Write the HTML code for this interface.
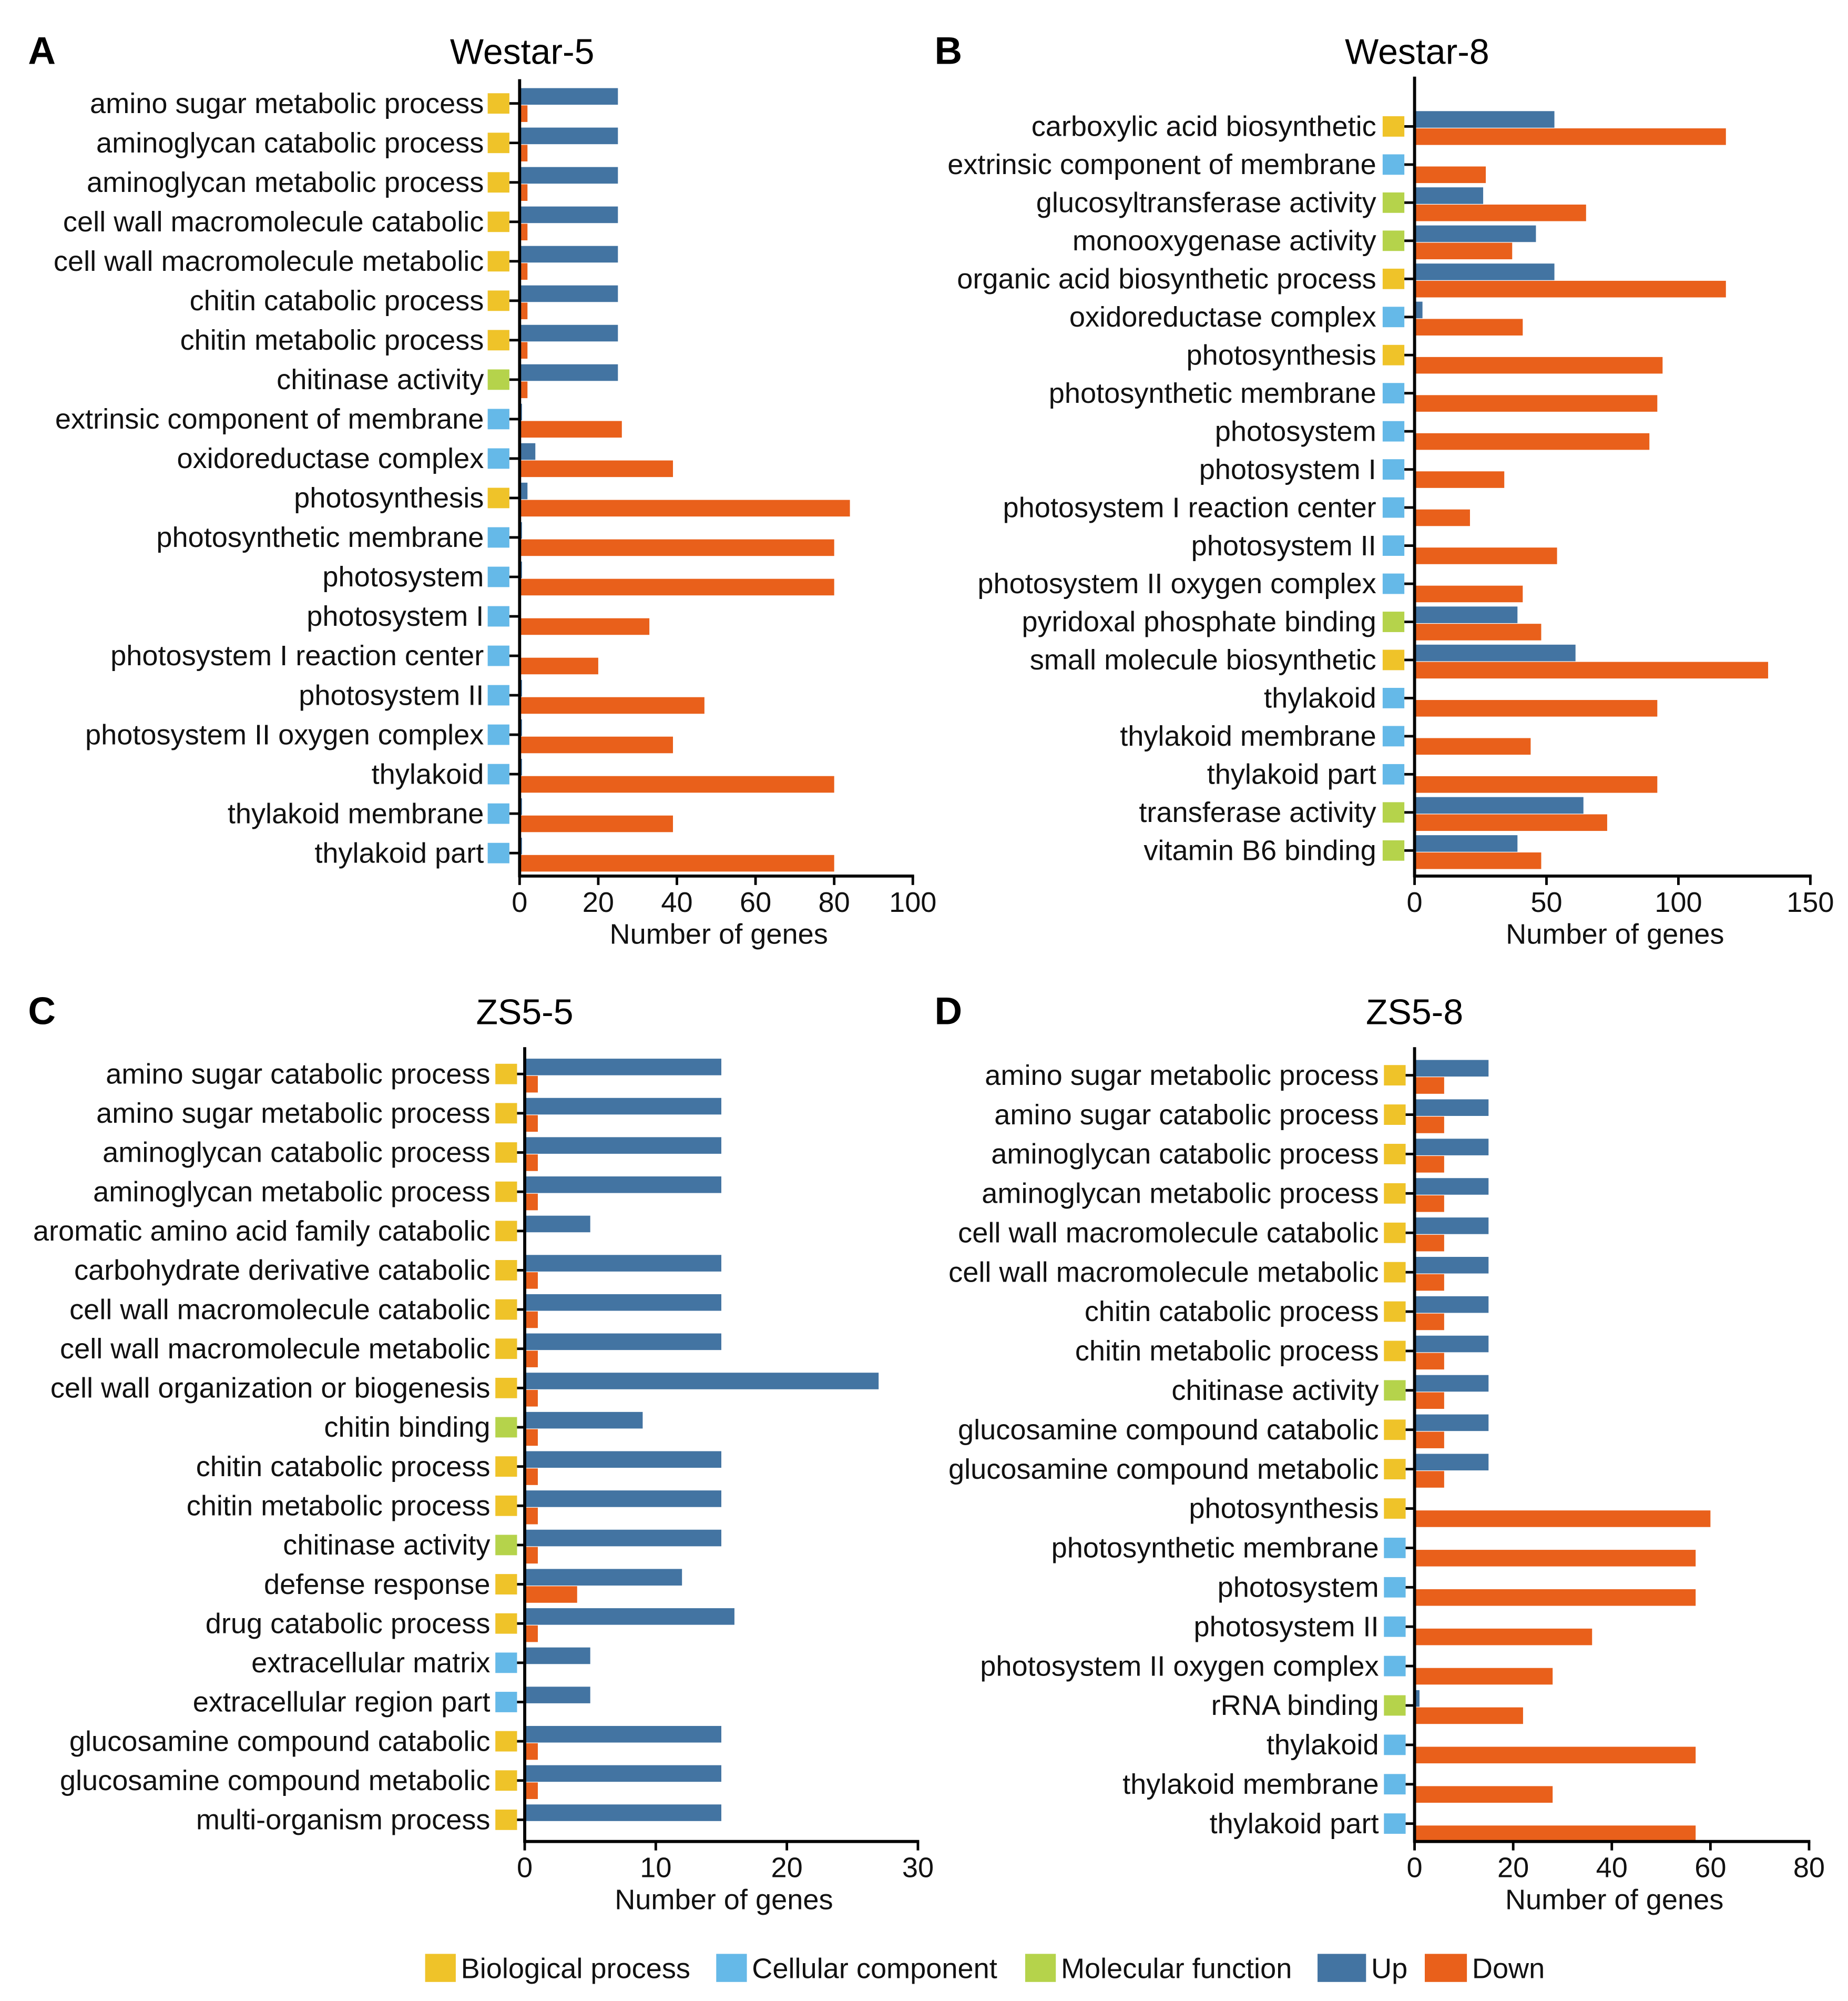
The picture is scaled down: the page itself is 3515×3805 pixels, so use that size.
<!DOCTYPE html>
<html><head><meta charset="utf-8"><style>
html,body{margin:0;padding:0;background:#fff;}
svg{display:block;font-family:"Liberation Sans",Arial,sans-serif;}
</style></head><body>
<svg id="fig" width="3515" height="3805" viewBox="0 0 1447.5 1566.9" xmlns="http://www.w3.org/2000/svg"></svg>
<script>
// ---- Panel A data (Westar-5)
const catsA = ["amino sugar metabolic process","aminoglycan catabolic process","aminoglycan metabolic process","cell wall macromolecule catabolic","cell wall macromolecule metabolic","chitin catabolic process","chitin metabolic process","chitinase activity","extrinsic component of membrane","oxidoreductase complex","photosynthesis","photosynthetic membrane","photosystem","photosystem I","photosystem I reaction center","photosystem II","photosystem II oxygen complex","thylakoid","thylakoid membrane","thylakoid part"];
const typeA = ["B","B","B","B","B","B","B","M","C","C","B","C","C","C","C","C","C","C","C","C"];
const upA = [25,25,25,25,25,25,25,25,0.6,4,2,0.6,0.6,0,0,0.6,0.6,0.6,0.6,0.6];
const downA = [2,2,2,2,2,2,2,2,26,39,84,80,80,33,20,47,39,80,39,80];
const ticksA = [0,20,40,60,80,100];
// ---- Panel B data (Westar-8)
const catsB = ["carboxylic acid biosynthetic","extrinsic component of membrane","glucosyltransferase activity","monooxygenase activity","organic acid biosynthetic process","oxidoreductase complex","photosynthesis","photosynthetic membrane","photosystem","photosystem I","photosystem I reaction center","photosystem II","photosystem II oxygen complex","pyridoxal phosphate binding","small molecule biosynthetic","thylakoid","thylakoid membrane","thylakoid part","transferase activity","vitamin B6 binding"];
const typeB = ["B","C","M","M","B","C","B","C","C","C","C","C","C","M","B","C","C","C","M","M"];
const upB = [53,0,26,46,53,3,0.6,0,0,0,0,0,0,39,61,0,0,0,64,39];
const downB = [118,27,65,37,118,41,94,92,89,34,21,54,41,48,134,92,44,92,73,48];
const ticksB = [0,50,100,150];
// ---- Panel C data (ZS5-5)
const catsC = ["amino sugar catabolic process","amino sugar metabolic process","aminoglycan catabolic process","aminoglycan metabolic process","aromatic amino acid family catabolic","carbohydrate derivative catabolic","cell wall macromolecule catabolic","cell wall macromolecule metabolic","cell wall organization or biogenesis","chitin binding","chitin catabolic process","chitin metabolic process","chitinase activity","defense response","drug catabolic process","extracellular matrix","extracellular region part","glucosamine compound catabolic","glucosamine compound metabolic","multi-organism process"];
const typeC = ["B","B","B","B","B","B","B","B","B","M","B","B","M","B","B","C","C","B","B","B"];
const upC = [15,15,15,15,5,15,15,15,27,9,15,15,15,12,16,5,5,15,15,15];
const downC = [1,1,1,1,0,1,1,1,1,1,1,1,1,4,1,0,0,1,1,0];
const ticksC = [0,10,20,30];
// ---- Panel D data (ZS5-8)
const catsD = ["amino sugar metabolic process","amino sugar catabolic process","aminoglycan catabolic process","aminoglycan metabolic process","cell wall macromolecule catabolic","cell wall macromolecule metabolic","chitin catabolic process","chitin metabolic process","chitinase activity","glucosamine compound catabolic","glucosamine compound metabolic","photosynthesis","photosynthetic membrane","photosystem","photosystem II","photosystem II oxygen complex","rRNA binding","thylakoid","thylakoid membrane","thylakoid part"];
const typeD = ["B","B","B","B","B","B","B","B","M","B","B","B","C","C","C","C","M","C","C","C"];
const upD = [15,15,15,15,15,15,15,15,15,15,15,0,0,0,0,0,1,0,0,0];
const downD = [6,6,6,6,6,6,6,6,6,6,6,60,57,57,36,28,22,57,28,57];
const ticksD = [0,20,40,60,80];

const COL = {B:"#efc329",C:"#65b9e8",M:"#b5d34b",up:"#4374a2",down:"#e9601b"};
const FS = 22.3;
const NS = "http://www.w3.org/2000/svg";
const svg = document.getElementById("fig");
function mk(tag, attrs, parent){const e=document.createElementNS(NS,tag);for(const k in attrs)e.setAttribute(k,attrs[k]);(parent||svg).appendChild(e);return e;}

function panel(cfg){
  const g = mk("g",{});
  
  
  const x0=cfg.x0, x1=cfg.x1, max=cfg.ticks[cfg.ticks.length-1];
  const xs = v => x0 + (x1-x0)*v/max;
  const n = cfg.cats.length;
  const ys = i => cfg.yFirst + (cfg.yLast-cfg.yFirst)*i/(n-1);
  const L = mk("text",{x:cfg.letterX,y:cfg.titleY+10,"font-size":30,"font-weight":"bold",fill:"#000"},g);
  L.textContent=cfg.letter;
  
  
  const T = mk("text",{x:cfg.titleX,y:cfg.titleY+10,"font-size":28,"text-anchor":"middle",fill:"#000"},g);
  T.textContent=cfg.title;
  
  
  for(let i=0;i<n;i++){
    const c=ys(i);
    const lab = mk("text",{x:cfg.labelX,y:c+7.5,"font-size":FS,"text-anchor":"end",fill:"#111"},g);
    lab.textContent=cfg.cats[i];
    
    
    const sq = mk("rect",{x:cfg.sqX,y:c-8,width:17,height:16,fill:COL[cfg.types[i]]},g);
    
    
    mk("line",{x1:cfg.sqX+17,x2:x0,y1:c,y2:c,stroke:"#000","stroke-width":2},g);
    if(cfg.up[i]>0){
      const b = mk("rect",{x:x0,y:c-12,width:xs(cfg.up[i])-x0,height:13,fill:COL.up},g);
      
      
    }
    if(cfg.down[i]>0){
      const b = mk("rect",{x:x0,y:c+1.5,width:xs(cfg.down[i])-x0,height:13,fill:COL.down},g);
      
      
    }
  }
  const ya = mk("line",{x1:x0,x2:x0,y1:cfg.axTop,y2:cfg.axBot+1,stroke:"#000","stroke-width":2.4},g);
  
  
  const xa = mk("line",{x1:x0-1,x2:x1+1,y1:cfg.axBot,y2:cfg.axBot,stroke:"#000","stroke-width":2.4},g);
  
  
  for(const t of cfg.ticks){
    const x=xs(t);
    mk("line",{x1:x,x2:x,y1:cfg.axBot,y2:cfg.axBot+7,stroke:"#000","stroke-width":2},g);
    const tl = mk("text",{x:x,y:cfg.axBot+28,"font-size":FS,"text-anchor":"middle",fill:"#111"},g);
    tl.textContent=t;
    
    
  }
  const at = mk("text",{x:(x0+x1)/2+2,y:cfg.axBot+53,"font-size":FS,"text-anchor":"middle",fill:"#111"},g);
  at.textContent="Number of genes";
  
  
}

panel({letter:"A",letterX:22,title:"Westar-5",titleX:409,titleY:40,cats:catsA,types:typeA,up:upA,down:downA,ticks:ticksA,
  x0:407,x1:715,yFirst:81,yLast:668,axTop:62,axBot:686,labelX:379,sqX:382});
panel({letter:"B",letterX:732,title:"Westar-8",titleX:1110,titleY:40,cats:catsB,types:typeB,up:upB,down:downB,ticks:ticksB,
  x0:1108,x1:1418,yFirst:99,yLast:666,axTop:60,axBot:686,labelX:1078,sqX:1083});
panel({letter:"C",letterX:22,title:"ZS5-5",titleX:411,titleY:792,cats:catsC,types:typeC,up:upC,down:downC,ticks:ticksC,
  x0:411,x1:719,yFirst:841,yLast:1425,axTop:820,axBot:1442,labelX:384,sqX:388});
panel({letter:"D",letterX:732,title:"ZS5-8",titleX:1108,titleY:792,cats:catsD,types:typeD,up:upD,down:downD,ticks:ticksD,
  x0:1108,x1:1417,yFirst:842,yLast:1428,axTop:820,axBot:1442,labelX:1080,sqX:1084});

// legend
const legItems = [["Biological process",COL.B,333,24],["Cellular component",COL.C,561,24],["Molecular function",COL.M,803,24],["Up",COL.up,1032,38],["Down",COL.down,1116,33]];
const lg = mk("g",{});


for(const it of legItems){
  const r = mk("rect",{x:it[2],y:1530,width:it[3],height:22,fill:it[1]},lg);
  
  
  const t = mk("text",{x:it[2]+it[3]+4,y:1549,"font-size":FS,fill:"#111"},lg);
  t.textContent=it[0];
  
  
}
</script>
</body></html>
